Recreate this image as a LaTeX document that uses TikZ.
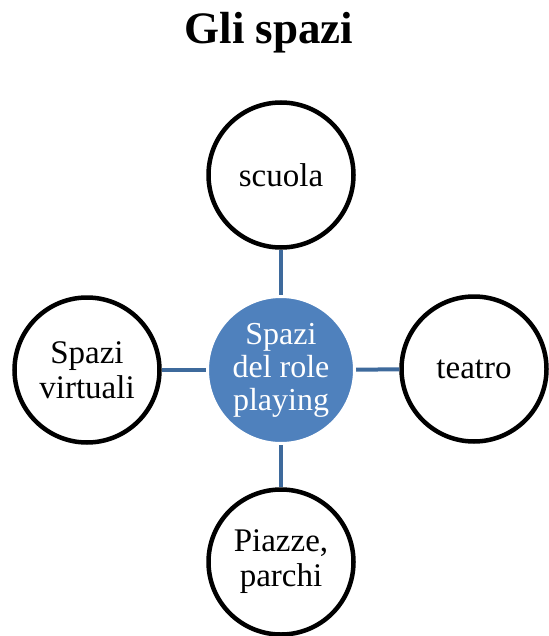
\documentclass[tikz,border=0pt]{standalone}
\usepackage{fontspec}
\setmainfont{Liberation Serif}
\definecolor{hubfill}{HTML}{4F81BD}
\definecolor{linkcol}{HTML}{3E6A9C}
\begin{document}
\begin{tikzpicture}[x=1pt,y=-1pt,
  outer/.style={circle,draw=black,line width=4.5pt,fill=white,minimum size=145pt,inner sep=0pt,align=center,font=\fontsize{33}{35}\selectfont},
  hub/.style={circle,draw=white,line width=3pt,fill=hubfill,minimum size=147pt,inner sep=0pt,align=center,text=white,font=\fontsize{32}{33}\selectfont},
  link/.style={draw=linkcol,line width=4pt}]
\useasboundingbox (0,0) rectangle (548,636);
\node[font=\bfseries\fontsize{45}{50}\selectfont] (title) at (269,33) {Gli spazi};
\node[outer] (t) at (281,175) {scuola};
\node[outer] (l) at (87,370) {Spazi\\virtuali};
\node[outer] (r) at (474,369) {teatro};
\node[outer] (b) at (281,562) {Piazze,\\parchi};
\coordinate (cc) at (281,370);
\draw[link] (t) -- (cc);
\draw[link] (l) -- (cc);
\draw[link] (r) -- (cc);
\draw[link] (b) -- (cc);
\node[hub] (c) at (cc) {Spazi\\del role\\playing};
\end{tikzpicture}
\end{document}
